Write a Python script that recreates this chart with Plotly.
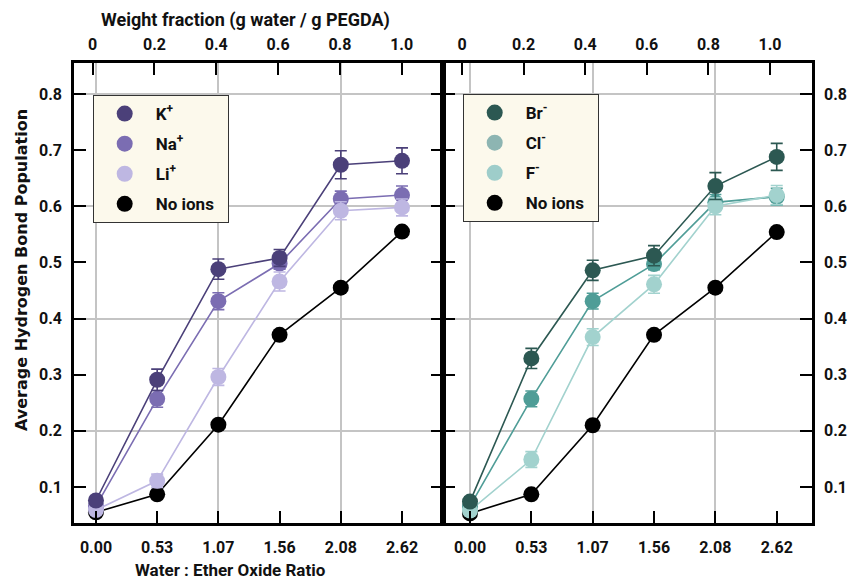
import plotly.graph_objects as go

# ---------------- data ----------------
ratio_labels = ["0.00", "0.53", "1.07", "1.56", "2.08", "2.62"]
x_idx = [0, 1, 2, 3, 4, 5]
wf_ticks = [0, 0.2, 0.4, 0.6, 0.8, 1.0]
wf_labels = ["0", "0.2", "0.4", "0.6", "0.8", "1.0"]
y_ticks = [0.1, 0.2, 0.3, 0.4, 0.5, 0.6, 0.7, 0.8]
y_grid = [0.2, 0.4, 0.6, 0.8]
x_grid = [0, 2, 4]

k_vals = [0.076, 0.291, 0.488, 0.508, 0.674, 0.681]
k_err = [0.008, 0.019, 0.018, 0.015, 0.025, 0.023]
na_vals = [0.066, 0.257, 0.431, 0.498, 0.613, 0.620]
na_err = [0.006, 0.015, 0.015, 0.010, 0.014, 0.016]
li_vals = [0.059, 0.111, 0.296, 0.466, 0.592, 0.598]
li_err = [0.005, 0.012, 0.015, 0.017, 0.016, 0.015]
none_vals_l = [0.055, 0.087, 0.211, 0.371, 0.455, 0.555]
none_err_l = [0.004, 0.004, 0.004, 0.004, 0.004, 0.004]

br_vals = [0.074, 0.329, 0.486, 0.512, 0.636, 0.688]
br_err = [0.008, 0.018, 0.018, 0.018, 0.024, 0.024]
cl_vals = [0.066, 0.257, 0.431, 0.497, 0.607, 0.617]
cl_err = [0.006, 0.014, 0.014, 0.010, 0.014, 0.015]
f_vals = [0.058, 0.149, 0.367, 0.461, 0.600, 0.620]
f_err = [0.005, 0.014, 0.015, 0.016, 0.015, 0.017]
none_vals_r = [0.053, 0.087, 0.210, 0.371, 0.455, 0.554]
none_err_r = [0.004, 0.004, 0.004, 0.004, 0.004, 0.004]

# ---------------- styles ----------------
C_K, C_NA, C_LI = "#4b4079", "#7b6db2", "#beb7e2"
C_BR, C_CL, C_F = "#2c5852", "#4f9d97", "#a2d2ce"
C_CL_LEG, C_F_LEG = "#8db5b2", "#9ecdca"
FONT = "Roboto"
TXT = "#111111"

W, H = 848, 579


def px(x):  # page x -> paper fraction
    return x / W


def py(y):  # page y -> paper fraction
    return 1 - y / H


fig = go.Figure()


def add_series(x_axis, y_axis, vals, errs, color):
    fig.add_trace(go.Scatter(
        x=x_idx, y=vals, xaxis=x_axis, yaxis=y_axis, mode="lines+markers",
        line=dict(color=color, width=1.6),
        marker=dict(color=color, size=16, line=dict(width=0)),
        error_y=dict(type="data", array=errs, color=color, thickness=1.6, width=6),
        showlegend=False, hoverinfo="skip"))


add_series("x", "y", none_vals_l, none_err_l, "#000000")
add_series("x", "y", na_vals, na_err, C_NA)
add_series("x", "y", li_vals, li_err, C_LI)
add_series("x", "y", k_vals, k_err, C_K)

add_series("x2", "y2", none_vals_r, none_err_r, "#000000")
add_series("x2", "y2", cl_vals, cl_err, C_CL)
add_series("x2", "y2", f_vals, f_err, C_F)
add_series("x2", "y2", br_vals, br_err, C_BR)

# dummy traces so overlay axes are drawn
for xa, ya in [("x3", "y"), ("x4", "y2"), ("x5", "y3"), ("x6", "y4")]:
    fig.add_trace(go.Scatter(x=[None], y=[None], xaxis=xa, yaxis=ya,
                             showlegend=False, hoverinfo="skip"))

# legend entries
NB = "\u00a0\u00a0"
leg_left = [("K<sup>+</sup>", C_K), ("Na<sup>+</sup>", C_NA), ("Li<sup>+</sup>", C_LI), ("No ions" + NB, "#000000")]
leg_right = [("Br<sup>-</sup>", C_BR), ("Cl<sup>-</sup>", C_CL_LEG), ("F<sup>-</sup>", C_F_LEG), ("No ions" + NB, "#000000")]
for i, (name, col) in enumerate(leg_left):
    fig.add_trace(go.Scatter(x=[None], y=[None], mode="markers", name=name,
                             marker=dict(color=col, size=20), legend="legend",
                             legendgroup="l%d" % i, xaxis="x", yaxis="y"))
for i, (name, col) in enumerate(leg_right):
    fig.add_trace(go.Scatter(x=[None], y=[None], mode="markers", name=name,
                             marker=dict(color=col, size=20), legend="legend2",
                             legendgroup="r%d" % i, xaxis="x2", yaxis="y2"))

L0, MID, R1 = 74, 443, 812
T0, B0 = 63, 523
dom_l = [px(L0), px(MID)]
dom_r = [px(MID), px(R1)]
dom_y = [py(B0), py(T0)]

rng_bl = [-0.359, 5.67]
rng_br = [-0.44, 5.575]
rng_tl = [-0.0605, 1.1337]
rng_tr = [-0.0617, 1.1364]
rng_y = [0.0359, 0.8552]

tickfont = dict(family=FONT, size=16, color=TXT, weight=700)
axis_common = dict(showline=True, linecolor="#000000", linewidth=2.6,
                   ticks="inside", ticklen=12, tickwidth=2, tickcolor="#000000",
                   tickfont=tickfont, showgrid=False, zeroline=False)
grid_common = dict(showticklabels=False, ticks="", showgrid=True, gridcolor="#c4c4c4",
                   gridwidth=1.5, zeroline=False, showline=False, tickmode="array")
leg_common = dict(xanchor="left", yanchor="top", bgcolor="#fcf9ec", bordercolor="#333333",
                  borderwidth=1, font=dict(family=FONT, size=17, color=TXT, weight=700),
                  itemwidth=52, tracegroupgap=5, traceorder="grouped")

fig.update_layout(
    width=W, height=H, autosize=False,
    margin=dict(l=0, r=0, t=0, b=0),
    paper_bgcolor="white", plot_bgcolor="white",
    xaxis=dict(domain=dom_l, range=rng_bl, anchor="y", tickmode="array",
               tickvals=x_idx, ticktext=ratio_labels, ticklabelstandoff=8, **axis_common),
    xaxis2=dict(domain=dom_r, range=rng_br, anchor="y2", tickmode="array",
                tickvals=x_idx, ticktext=ratio_labels, ticklabelstandoff=8, **axis_common),
    xaxis3=dict(overlaying="x", side="top", anchor="y", range=rng_tl, tickmode="array",
                tickvals=wf_ticks, ticktext=wf_labels, ticklabelstandoff=4, **axis_common),
    xaxis4=dict(overlaying="x2", side="top", anchor="y2", range=rng_tr, tickmode="array",
                tickvals=wf_ticks, ticktext=wf_labels, ticklabelstandoff=4, **axis_common),
    xaxis5=dict(overlaying="x", anchor="y", range=rng_bl, tickvals=x_grid, **grid_common),
    xaxis6=dict(overlaying="x2", anchor="y2", range=rng_br, tickvals=x_grid, **grid_common),
    yaxis=dict(domain=dom_y, range=rng_y, anchor="x", tickmode="array", tickvals=y_ticks,
               tickformat=".1f", mirror="ticks", ticklabelstandoff=6, **axis_common),
    yaxis2=dict(domain=dom_y, range=rng_y, anchor="x2", side="right", tickmode="array",
                tickvals=y_ticks, tickformat=".1f", mirror="ticks", ticklabelstandoff=6,
                **axis_common),
    yaxis3=dict(overlaying="y", anchor="x", range=rng_y, tickvals=y_grid, **grid_common),
    yaxis4=dict(overlaying="y2", anchor="x2", range=rng_y, tickvals=y_grid, **grid_common),
    legend=dict(x=px(92.7), y=py(95), **leg_common),
    legend2=dict(x=px(462.7), y=py(94), **leg_common),
    annotations=[
        dict(text="Weight fraction (g water / g PEGDA)", xref="paper", yref="paper",
             x=px(245), y=py(20), xanchor="center", yanchor="middle", showarrow=False,
             font=dict(family=FONT, size=18, color=TXT, weight=700)),
        dict(text="Water : Ether Oxide Ratio", xref="paper", yref="paper",
             x=px(230), y=py(570), xanchor="center", yanchor="middle", showarrow=False,
             font=dict(family=FONT, size=17, color=TXT, weight=700)),
        dict(text="Average Hydrogen Bond Population", xref="paper", yref="paper",
             x=px(21), y=py(270), xanchor="center", yanchor="middle", showarrow=False,
             textangle=-90, font=dict(family="DejaVu Sans", size=16, color=TXT, weight=700)),
    ],
)

fig.write_html("out.html", config={"displayModeBar": False},
               post_script="document.body.style.margin='0';document.body.style.overflow='hidden';")
